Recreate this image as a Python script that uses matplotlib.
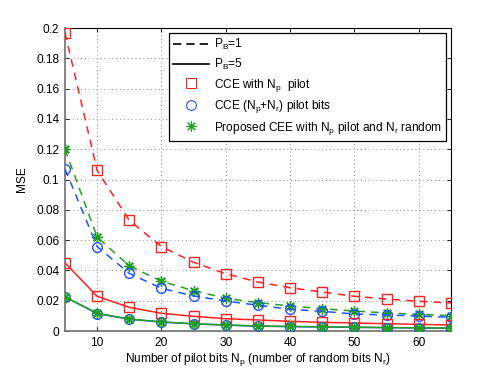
import matplotlib
matplotlib.use("Agg")
import matplotlib.pyplot as plt
from matplotlib.lines import Line2D

plt.rcParams['font.family'] = ['Liberation Sans', 'DejaVu Sans']
plt.rcParams['mathtext.default'] = 'regular'

Np = [5, 10, 15, 20, 25, 30, 35, 40, 45, 50, 55, 60, 65]

cce_np_pb1 = [0.197, 0.106, 0.073, 0.0557, 0.0453, 0.0378, 0.0323, 0.0286, 0.0257, 0.0229, 0.0211, 0.0196, 0.0185]
cce_npnr_pb1 = [0.107, 0.0557, 0.038, 0.0282, 0.0231, 0.0198, 0.0170, 0.0143, 0.0130, 0.0112, 0.0106, 0.0099, 0.0090]
prop_pb1 = [0.120, 0.062, 0.043, 0.0328, 0.0266, 0.0216, 0.0187, 0.0165, 0.0147, 0.0132, 0.0119, 0.0110, 0.0101]

cce_np_pb5 = [0.045, 0.0229, 0.0156, 0.0117, 0.0097, 0.0081, 0.0073, 0.0064, 0.0057, 0.0053, 0.0048, 0.0044, 0.0040]
cce_npnr_pb5 = [0.0225, 0.0115, 0.0078, 0.0059, 0.0047, 0.0039, 0.0032, 0.0029, 0.0027, 0.0024, 0.0022, 0.0020, 0.0018]
prop_pb5 = [0.0225, 0.0117, 0.0079, 0.0060, 0.0048, 0.0040, 0.0033, 0.0030, 0.0028, 0.0025, 0.0023, 0.0021, 0.0019]

xticks = [10, 20, 30, 40, 50, 60]
yticks = [0, 0.02, 0.04, 0.06, 0.08, 0.1, 0.12, 0.14, 0.16, 0.18, 0.2]
yticklabels = ['0', '0.02', '0.04', '0.06', '0.08', '0.1', '0.12', '0.14', '0.16', '0.18', '0.2']

red = '#ff2020'
blue = '#2050ff'
green = '#20a020'
ASTER = (8, 2, 0)

fig = plt.figure(figsize=(4.98, 3.72), dpi=100)
ax = fig.add_axes([0.1305, 0.1102, 0.7751, 0.8145])

ms = 6.5
mew = 1.0
dash = (0, (5, 4))
ax.plot(Np, cce_np_pb1, color=red, ls=dash, lw=1.1, marker='s', ms=ms, mfc='none', mew=mew, zorder=3)
ax.plot(Np, prop_pb1, color=green, ls=dash, lw=1.1, marker=ASTER, ms=ms + 1, mfc='none', mew=mew, zorder=3)
ax.plot(Np, cce_npnr_pb1, color=blue, ls=dash, lw=1.1, marker='o', ms=ms + 0.5, mfc='none', mew=mew, zorder=3)

ax.plot(Np, cce_np_pb5, color=red, ls='-', lw=1.1, marker='s', ms=ms, mfc='none', mew=mew, zorder=3)
ax.plot(Np, cce_npnr_pb5, color=blue, ls='-', lw=1.1, marker='o', ms=ms + 0.5, mfc='none', mew=mew, zorder=3)
ax.plot(Np, prop_pb5, color=green, ls='-', lw=1.1, marker=ASTER, ms=ms + 1, mfc='none', mew=mew, zorder=4)

ax.set_xlim(5, 65)
ax.set_ylim(0, 0.2)
ax.set_xticks(xticks)
ax.set_yticks(yticks)
ax.set_yticklabels(yticklabels)
ax.tick_params(direction='in', top=True, right=True, labelsize=8.6, length=3, width=0.6, pad=4)
ax.grid(True, ls=(0, (1, 3)), color='#909090', lw=0.7)
for s in ['left', 'bottom']:
    ax.spines[s].set_color('#707070')
    ax.spines[s].set_linewidth(1.2)
for s in ['top', 'right']:
    ax.spines[s].set_color('black')
    ax.spines[s].set_linewidth(0.8)

ax.set_xlabel('Number of pilot bits N$_p$ (number of random bits N$_r$)', fontsize=8.6, labelpad=2)
ax.set_ylabel('MSE', fontsize=8.6, labelpad=6)

handles = [
    Line2D([], [], color='black', ls=(0, (5, 3)), lw=1.2),
    Line2D([], [], color='black', ls='-', lw=1.2),
    Line2D([], [], color=red, ls='none', marker='s', ms=6.5, mfc='none', mew=0.8),
    Line2D([], [], color=blue, ls='none', marker='o', ms=7, mfc='none', mew=0.8),
    Line2D([], [], color=green, ls='none', marker=ASTER, ms=7.5, mfc='none', mew=0.8),
]
labels = ['P$_B$=1', 'P$_B$=5', 'CCE with N$_p$  pilot', 'CCE (N$_p$+N$_r$) pilot bits',
          'Proposed CEE with N$_p$ pilot and N$_r$ random']
leg = ax.legend(handles, labels, loc='upper right', fontsize=8.6, fancybox=False,
                framealpha=1, edgecolor='black', handlelength=3.0, borderpad=0.35,
                labelspacing=0.38, handletextpad=0.4, borderaxespad=0,
                bbox_to_anchor=(0.987, 0.983))
leg.get_frame().set_linewidth(0.9)

fig.savefig('out.png', dpi=100)
